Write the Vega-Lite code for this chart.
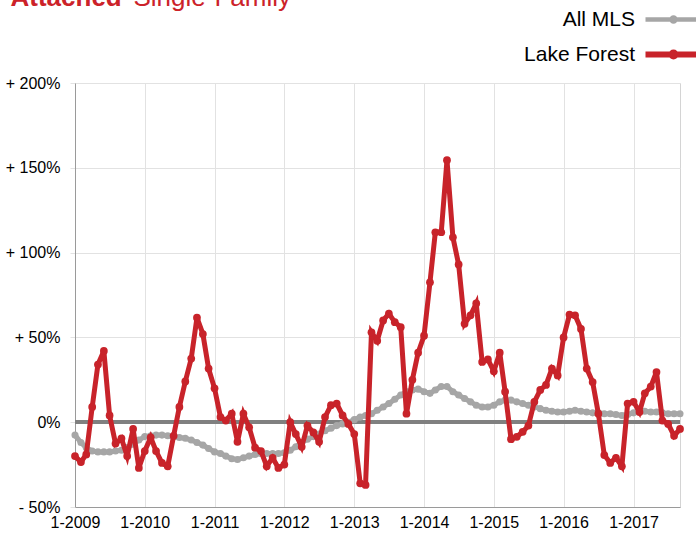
{
  "$schema": "https://vega.github.io/schema/vega-lite/v6.json",
  "width": 605,
  "height": 424,
  "autosize": {"type": "none"},
  "padding": {"left": 75, "top": 83, "right": 16, "bottom": 26},
  "background": "white",
  "config": {
    "view": {"stroke": "#d4d4d4", "strokeWidth": 1},
    "font": "Liberation Sans"
  },
  "data": {
    "values": [
      {"d": "2009-01-01", "All MLS": -7.6, "Lake Forest": -20},
      {"d": "2009-02-01", "All MLS": -12, "Lake Forest": -23.5},
      {"d": "2009-03-01", "All MLS": -15, "Lake Forest": -19},
      {"d": "2009-04-01", "All MLS": -17, "Lake Forest": 9},
      {"d": "2009-05-01", "All MLS": -17.5, "Lake Forest": 34},
      {"d": "2009-06-01", "All MLS": -17.5, "Lake Forest": 42},
      {"d": "2009-07-01", "All MLS": -17.5, "Lake Forest": 4},
      {"d": "2009-08-01", "All MLS": -17, "Lake Forest": -12.6},
      {"d": "2009-09-01", "All MLS": -16.5, "Lake Forest": -9.6},
      {"d": "2009-10-01", "All MLS": -15, "Lake Forest": -20},
      {"d": "2009-11-01", "All MLS": -13, "Lake Forest": -4},
      {"d": "2009-12-01", "All MLS": -10.5, "Lake Forest": -27},
      {"d": "2010-01-01", "All MLS": -8.5, "Lake Forest": -17},
      {"d": "2010-02-01", "All MLS": -8, "Lake Forest": -9},
      {"d": "2010-03-01", "All MLS": -7.6, "Lake Forest": -17},
      {"d": "2010-04-01", "All MLS": -7.6, "Lake Forest": -24},
      {"d": "2010-05-01", "All MLS": -8, "Lake Forest": -26},
      {"d": "2010-06-01", "All MLS": -8.5, "Lake Forest": -8},
      {"d": "2010-07-01", "All MLS": -9, "Lake Forest": 9},
      {"d": "2010-08-01", "All MLS": -9.5, "Lake Forest": 24},
      {"d": "2010-09-01", "All MLS": -10.5, "Lake Forest": 37.5},
      {"d": "2010-10-01", "All MLS": -12, "Lake Forest": 61.6},
      {"d": "2010-11-01", "All MLS": -13.5, "Lake Forest": 52},
      {"d": "2010-12-01", "All MLS": -15.5, "Lake Forest": 31.6},
      {"d": "2011-01-01", "All MLS": -17.5, "Lake Forest": 20},
      {"d": "2011-02-01", "All MLS": -18.5, "Lake Forest": 3},
      {"d": "2011-03-01", "All MLS": -20, "Lake Forest": 1},
      {"d": "2011-04-01", "All MLS": -21.5, "Lake Forest": 5},
      {"d": "2011-05-01", "All MLS": -22, "Lake Forest": -11.6},
      {"d": "2011-06-01", "All MLS": -21, "Lake Forest": 5},
      {"d": "2011-07-01", "All MLS": -20, "Lake Forest": -3},
      {"d": "2011-08-01", "All MLS": -19, "Lake Forest": -15},
      {"d": "2011-09-01", "All MLS": -18.5, "Lake Forest": -17},
      {"d": "2011-10-01", "All MLS": -18.5, "Lake Forest": -26},
      {"d": "2011-11-01", "All MLS": -18.5, "Lake Forest": -21},
      {"d": "2011-12-01", "All MLS": -18.5, "Lake Forest": -27},
      {"d": "2012-01-01", "All MLS": -18, "Lake Forest": -25},
      {"d": "2012-02-01", "All MLS": -16.5, "Lake Forest": 0},
      {"d": "2012-03-01", "All MLS": -14.5, "Lake Forest": -7},
      {"d": "2012-04-01", "All MLS": -12, "Lake Forest": -14.5},
      {"d": "2012-05-01", "All MLS": -10, "Lake Forest": -2},
      {"d": "2012-06-01", "All MLS": -8.5, "Lake Forest": -6},
      {"d": "2012-07-01", "All MLS": -7, "Lake Forest": -11.6},
      {"d": "2012-08-01", "All MLS": -5, "Lake Forest": 3},
      {"d": "2012-09-01", "All MLS": -3.5, "Lake Forest": 10},
      {"d": "2012-10-01", "All MLS": -2, "Lake Forest": 11},
      {"d": "2012-11-01", "All MLS": -1, "Lake Forest": 4},
      {"d": "2012-12-01", "All MLS": 0, "Lake Forest": -1},
      {"d": "2013-01-01", "All MLS": 1.5, "Lake Forest": -7},
      {"d": "2013-02-01", "All MLS": 3, "Lake Forest": -36},
      {"d": "2013-03-01", "All MLS": 4, "Lake Forest": -37},
      {"d": "2013-04-01", "All MLS": 5, "Lake Forest": 53},
      {"d": "2013-05-01", "All MLS": 7, "Lake Forest": 48},
      {"d": "2013-06-01", "All MLS": 9, "Lake Forest": 60},
      {"d": "2013-07-01", "All MLS": 11, "Lake Forest": 64},
      {"d": "2013-08-01", "All MLS": 13.5, "Lake Forest": 59},
      {"d": "2013-09-01", "All MLS": 16, "Lake Forest": 56},
      {"d": "2013-10-01", "All MLS": 18, "Lake Forest": 5},
      {"d": "2013-11-01", "All MLS": 19, "Lake Forest": 25},
      {"d": "2013-12-01", "All MLS": 19.5, "Lake Forest": 41},
      {"d": "2014-01-01", "All MLS": 18, "Lake Forest": 51},
      {"d": "2014-02-01", "All MLS": 17, "Lake Forest": 82.5},
      {"d": "2014-03-01", "All MLS": 19, "Lake Forest": 112},
      {"d": "2014-04-01", "All MLS": 21, "Lake Forest": 112},
      {"d": "2014-05-01", "All MLS": 21, "Lake Forest": 154.5},
      {"d": "2014-06-01", "All MLS": 18, "Lake Forest": 109},
      {"d": "2014-07-01", "All MLS": 16, "Lake Forest": 93},
      {"d": "2014-08-01", "All MLS": 14, "Lake Forest": 58},
      {"d": "2014-09-01", "All MLS": 12, "Lake Forest": 63},
      {"d": "2014-10-01", "All MLS": 10, "Lake Forest": 70},
      {"d": "2014-11-01", "All MLS": 9, "Lake Forest": 35.5},
      {"d": "2014-12-01", "All MLS": 9, "Lake Forest": 37},
      {"d": "2015-01-01", "All MLS": 10, "Lake Forest": 30},
      {"d": "2015-02-01", "All MLS": 12, "Lake Forest": 41},
      {"d": "2015-03-01", "All MLS": 13, "Lake Forest": 18},
      {"d": "2015-04-01", "All MLS": 13, "Lake Forest": -10},
      {"d": "2015-05-01", "All MLS": 12, "Lake Forest": -8.6},
      {"d": "2015-06-01", "All MLS": 11, "Lake Forest": -5.7},
      {"d": "2015-07-01", "All MLS": 10, "Lake Forest": -2},
      {"d": "2015-08-01", "All MLS": 9, "Lake Forest": 12},
      {"d": "2015-09-01", "All MLS": 8, "Lake Forest": 19},
      {"d": "2015-10-01", "All MLS": 7, "Lake Forest": 22},
      {"d": "2015-11-01", "All MLS": 6.5, "Lake Forest": 31.6},
      {"d": "2015-12-01", "All MLS": 6, "Lake Forest": 27.6},
      {"d": "2016-01-01", "All MLS": 6, "Lake Forest": 50},
      {"d": "2016-02-01", "All MLS": 6.5, "Lake Forest": 63.5},
      {"d": "2016-03-01", "All MLS": 7, "Lake Forest": 63},
      {"d": "2016-04-01", "All MLS": 6.5, "Lake Forest": 55},
      {"d": "2016-05-01", "All MLS": 6, "Lake Forest": 31.6},
      {"d": "2016-06-01", "All MLS": 5.5, "Lake Forest": 23.7},
      {"d": "2016-07-01", "All MLS": 5.5, "Lake Forest": 5},
      {"d": "2016-08-01", "All MLS": 5, "Lake Forest": -19.4},
      {"d": "2016-09-01", "All MLS": 5, "Lake Forest": -24},
      {"d": "2016-10-01", "All MLS": 4.5, "Lake Forest": -21},
      {"d": "2016-11-01", "All MLS": 4, "Lake Forest": -26},
      {"d": "2016-12-01", "All MLS": 4.5, "Lake Forest": 11},
      {"d": "2017-01-01", "All MLS": 5.5, "Lake Forest": 12},
      {"d": "2017-02-01", "All MLS": 7, "Lake Forest": 6},
      {"d": "2017-03-01", "All MLS": 6.5, "Lake Forest": 17},
      {"d": "2017-04-01", "All MLS": 6, "Lake Forest": 21},
      {"d": "2017-05-01", "All MLS": 6, "Lake Forest": 29.6},
      {"d": "2017-06-01", "All MLS": 5.5, "Lake Forest": 1},
      {"d": "2017-07-01", "All MLS": 5, "Lake Forest": -1},
      {"d": "2017-08-01", "All MLS": 5, "Lake Forest": -8},
      {"d": "2017-09-01", "All MLS": 5, "Lake Forest": -4}
    ]
  },
  "transform": [
    {"fold": ["All MLS", "Lake Forest"], "as": ["series", "value"]}
  ],
  "encoding": {
    "x": {
      "field": "d",
      "type": "temporal",
      "scale": {"type": "utc", "domain": [{"year": 2009, "month": 1, "date": 1, "utc": true}, {"year": 2017, "month": 9, "date": 1, "utc": true}], "nice": false},
      "axis": {
        "values": [
          {"year": 2009, "month": 1, "date": 1, "utc": true},
          {"year": 2010, "month": 1, "date": 1, "utc": true},
          {"year": 2011, "month": 1, "date": 1, "utc": true},
          {"year": 2012, "month": 1, "date": 1, "utc": true},
          {"year": 2013, "month": 1, "date": 1, "utc": true},
          {"year": 2014, "month": 1, "date": 1, "utc": true},
          {"year": 2015, "month": 1, "date": 1, "utc": true},
          {"year": 2016, "month": 1, "date": 1, "utc": true},
          {"year": 2017, "month": 1, "date": 1, "utc": true}
        ],
        "format": "%-m-%Y",
        "grid": true,
        "gridColor": "#e2e2e2",
        "ticks": false,
        "domainColor": "#9a9a9a",
        "labelFontSize": 16,
        "labelColor": "#000000",
        "labelPadding": 7,
        "labelOverlap": false,
        "labelFlush": false,
        "title": "Single-Family",
        "titleX": 58,
        "titleY": -502,
        "titleAlign": "left",
        "titleBaseline": "alphabetic",
        "titleAnchor": null,
        "titleFontSize": 26,
        "titleFontWeight": "normal",
        "titleColor": "#cc2229"
      }
    },
    "y": {
      "field": "value",
      "type": "quantitative",
      "scale": {"domain": [-50, 200], "nice": false, "zero": false},
      "axis": {
        "values": [-50, 0, 50, 100, 150, 200],
        "labelExpr": "datum.value > 0 ? '+ ' + datum.value + '%' : (datum.value < 0 ? '- ' + abs(datum.value) + '%' : '0%')",
        "grid": true,
        "gridColor": "#e2e2e2",
        "tickColor": "#e2e2e2",
        "tickSize": 5,
        "domainColor": "#9a9a9a",
        "labelFontSize": 16,
        "labelColor": "#000000",
        "labelPadding": 10,
        "title": "Attached",
        "titleAngle": 0,
        "titleX": -65,
        "titleY": -78,
        "titleAlign": "left",
        "titleBaseline": "alphabetic",
        "titleAnchor": null,
        "titleFontSize": 26,
        "titleFontWeight": "bold",
        "titleColor": "#cc2229"
      }
    }
  },
  "layer": [
    {
      "mark": {"type": "rule", "color": "#808080", "strokeWidth": 3},
      "encoding": {"y": {"datum": 0}, "x": {"value": 0}, "x2": {"value": 605}}
    },
    {
      "transform": [{"filter": "datum.series === 'All MLS'"}],
      "mark": {"type": "line", "strokeWidth": 5, "point": {"filled": true, "size": 50}},
      "encoding": {
        "color": {
          "field": "series",
          "type": "nominal",
          "scale": {"domain": ["All MLS", "Lake Forest"], "range": ["#a6a6a6", "#c8232a"]},
          "legend": {
            "orient": "none",
            "legendX": 588,
            "legendY": -74,
            "direction": "vertical",
            "title": null,
            "padding": 0,
            "symbolType": "M-4,0H4M-0.28,0A0.28,0.28,0,1,1,0.28,0A0.28,0.28,0,1,1,-0.28,0",
            "symbolSize": 196,
            "symbolStrokeWidth": 5,
            "rowPadding": 9,
            "labelAlign": "right",
            "labelOffset": -49,
            "labelFontSize": 21,
            "labelColor": "#000000",
            "labelLimit": 300,
            "encode": {
              "symbols": {
                "update": {
                  "stroke": {"scale": "color", "field": "value"},
                  "fill": {"scale": "color", "field": "value"},
                  "strokeWidth": {"signal": "datum.value === 'All MLS' ? 4.5 : 6"},
                  "opacity": {"value": 1}
                }
              }
            }
          }
        }
      }
    },
    {
      "transform": [{"filter": "datum.series === 'Lake Forest'"}],
      "mark": {"type": "line", "strokeWidth": 5, "point": {"filled": true, "size": 60}},
      "encoding": {
        "color": {"field": "series", "type": "nominal"}
      }
    }
  ]
}
